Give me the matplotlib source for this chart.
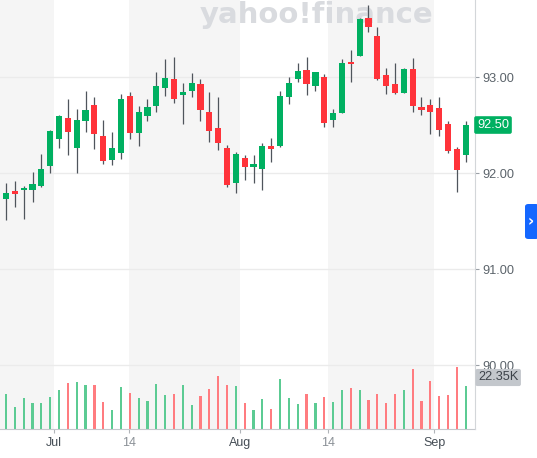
import matplotlib
matplotlib.use("Agg")
import matplotlib.pyplot as plt
from matplotlib.patches import FancyBboxPatch
import matplotlib.transforms as mtransforms
import numpy as np

# ---- data ----
opens = [91.735, 91.816, 91.826, 91.826, 91.871, 92.079, 92.360, 92.579, 92.267, 92.548,
         92.708, 92.385, 92.142, 92.208, 92.805, 92.417, 92.594, 92.704, 92.885, 92.979,
         92.819, 92.857, 92.927, 92.635, 92.469, 92.260, 91.899, 92.159, 92.069, 92.048,
         92.288, 92.288, 92.795, 92.982, 93.076, 92.913, 93.000, 92.555, 92.625, 93.163,
         93.222, 93.615, 93.433, 93.021, 92.927, 92.836, 93.083, 92.690, 92.708, 92.683,
         92.514, 92.250, 92.191]
highs = [91.902, 91.920, 91.868, 92.014, 92.204, 92.451, 92.607, 92.771, 92.667, 92.854,
         92.795, 92.552, 92.427, 92.823, 92.844, 92.701, 92.770, 93.058, 93.188, 93.208,
         92.938, 93.048, 92.979, 92.850, 92.790, 92.290, 92.225, 92.190, 92.190, 92.319,
         92.365, 92.854, 93.000, 93.152, 93.211, 93.052, 93.034, 92.673, 93.188, 93.284,
         93.615, 93.756, 93.527, 93.094, 93.152, 93.100, 93.204, 92.790, 92.771, 92.790,
         92.548, 92.277, 92.548]
lows = [91.514, 91.652, 91.524, 91.698, 91.854, 92.006, 92.267, 92.188, 92.006, 92.427,
        92.250, 92.094, 92.086, 92.146, 92.354, 92.288, 92.540, 92.642, 92.810, 92.735,
        92.510, 92.790, 92.545, 92.330, 92.243, 91.854, 91.790, 91.930, 91.900, 91.826,
        92.120, 92.274, 92.725, 92.948, 92.813, 92.860, 92.482, 92.482, 92.625, 92.951,
        93.222, 93.469, 92.972, 92.829, 92.826, 92.836, 92.642, 92.607, 92.406, 92.389,
        92.211, 91.808, 92.115]
closes = [91.795, 91.788, 91.850, 91.889, 92.045, 92.440, 92.597, 92.427, 92.552, 92.656,
          92.413, 92.125, 92.264, 92.771, 92.417, 92.635, 92.690, 92.909, 92.990, 92.771,
          92.844, 92.938, 92.660, 92.444, 92.319, 91.881, 92.198, 92.069, 92.094, 92.284,
          92.256, 92.805, 92.944, 93.066, 92.930, 93.052, 92.521, 92.625, 93.152, 93.142,
          93.604, 93.524, 92.979, 92.913, 92.833, 93.083, 92.704, 92.659, 92.642, 92.454,
          92.232, 92.038, 92.503]
volumes_k = [18.5, 11.5, 16.2, 13.8, 13.8, 16.8, 20.4, 24.3, 24.6, 23.2,
             22.9, 14.3, 10.1, 21.8, 19.0, 16.2, 14.8, 23.7, 17.8, 18.5,
             23.2, 12.6, 17.3, 21.0, 27.9, 23.2, 22.4, 13.8, 10.1, 15.7,
             10.7, 26.2, 16.2, 12.9, 18.2, 13.8, 16.8, 14.3, 20.4, 21.3,
             20.4, 15.2, 18.2, 13.4, 18.2, 20.4, 31.3, 14.7, 25.1, 17.3,
             17.6, 32.7, 22.35]
volume_up = [True, True] + [None] * 51  # None -> follow candle direction
tick_labels = ["Jul", "14", "Aug", "14", "Sep"]
tick_is_month = [True, False, True, False, True]
price_ticks = [90.0, 91.0, 92.0, 93.0]

# ---- styling ----
UP = "#00b061"
DOWN = "#ff333a"
VUP = "#5ccb93"
VDOWN = "#ff7c80"
WICK = "#4f555c"
BAND = "#f5f5f5"

W, H, DPI = 537, 458, 100
fig = plt.figure(figsize=(W / DPI, H / DPI), dpi=DPI)
fig.patch.set_facecolor("white")

plot_right_px = 475
plot_bottom_px = 429
axv = fig.add_axes([0, (H - plot_bottom_px) / H, plot_right_px / W, plot_bottom_px / H])
ax = axv.twinx()

n = len(opens)
x = np.arange(n)
step_px = 8.84
first_px = 6.0
xmin = -first_px / step_px
xmax = (plot_right_px - first_px) / step_px
tick_pos = [5.46, 13.95, 26.47, 36.46, 48.45]

# price axis scale: 96 px per unit, 93.00 at 77.3 px from top
px_per_unit = 96.0
p_top = 93.0 + 77.3 / px_per_unit
p_bot = p_top - plot_bottom_px / px_per_unit

# background bands
bounds = [xmin] + tick_pos + [xmax]
for i in range(len(bounds) - 1):
    if i % 2 == 0:
        axv.axvspan(bounds[i], bounds[i + 1], color=BAND, zorder=0, lw=0)

# volume
vol_scale_max = 22.35 * plot_bottom_px / 42.67
up = [c >= o for o, c in zip(opens, closes)]
vcol = []
for i in range(n):
    u = volume_up[i] if volume_up[i] is not None else up[i]
    vcol.append(VUP if u else VDOWN)
axv.bar(x, volumes_k, width=2.2 / step_px, color=vcol, zorder=2, lw=0)
axv.set_ylim(0, vol_scale_max)
axv.set_xlim(xmin, xmax)
axv.set_yticks([])

# price grid
for p in price_ticks:
    ax.axhline(p, color="#ebebeb", lw=1.0, zorder=0.5)

# candles
colors = [UP if u else DOWN for u in up]
ax.vlines(x, lows, highs, color=WICK, lw=0.9, zorder=2)
bottoms = [min(o, c) for o, c in zip(opens, closes)]
heights = [max(abs(c - o), 0.02) for o, c in zip(opens, closes)]
ax.bar(x, heights, bottom=bottoms, width=6.2 / step_px, color=colors, zorder=3, lw=0)
ax.set_ylim(p_bot, p_top)
ax.set_xlim(xmin, xmax)

# axes decoration
for a in (ax, axv):
    for s in ("top", "left"):
        a.spines[s].set_visible(False)
axv.spines["right"].set_visible(False)
ax.spines["bottom"].set_visible(False)
ax.spines["right"].set_color("#d3d6d9")
axv.spines["bottom"].set_color("#c5c8cc")

ax.set_yticks(price_ticks)
ax.set_yticklabels([f"{p:.2f}" for p in price_ticks], fontfamily="Liberation Sans", fontsize=9.2)
ax.tick_params(axis="y", right=True, length=3, width=0.8, color="#9aa0a6",
               labelcolor="#5b636a", pad=2)

axv.set_xticks(tick_pos)
axv.set_xticklabels(tick_labels, fontfamily="Liberation Sans", fontsize=9)
axv.tick_params(axis="x", length=3, width=0.8, color="#b0b4b8", pad=3)
for lbl, m in zip(axv.get_xticklabels(), tick_is_month):
    lbl.set_color("#464e56" if m else "#8a9096")

# watermark
ax.text(316 / plot_right_px, 1 - 15 / plot_bottom_px, "yahoo!finance", transform=ax.transAxes,
        ha="center", va="center", fontsize=21, fontweight="heavy", color="#d9dbdf",
        fontfamily="DejaVu Sans", zorder=1)

# last price label
trans = mtransforms.blended_transform_factory(ax.transAxes, ax.transData)
ax.text(1.0 + 2 / plot_right_px, closes[-1], f"{closes[-1]:.2f}", transform=trans,
        ha="left", va="center", fontsize=9.2, color="white", fontfamily="Liberation Sans",
        bbox=dict(boxstyle="round,pad=0.22,rounding_size=0.15", fc=UP, ec="none"),
        clip_on=False, zorder=10)

# last volume label
fig.text((plot_right_px + 3) / W, (H - 377.5) / H, f"{volumes_k[-1]:.2f}K",
         ha="left", va="center", fontsize=9.2, color="#3c4249", fontfamily="Liberation Sans",
         bbox=dict(boxstyle="round,pad=0.2,rounding_size=0.15", fc="#c3c7cc", ec="none"),
         zorder=10)

# blue side button
btn = FancyBboxPatch((525 / W, (H - 239) / H), 14 / W, 35 / H,
                     boxstyle="round,pad=0,rounding_size=0.006", transform=fig.transFigure,
                     fc="#1467ff", ec="none", zorder=20)
fig.patches.append(btn)
fig.text(531 / W, (H - 222) / H, "›", color="white", fontsize=11, fontweight="bold",
         ha="center", va="center", zorder=21)

fig.savefig("out.png", dpi=DPI)
